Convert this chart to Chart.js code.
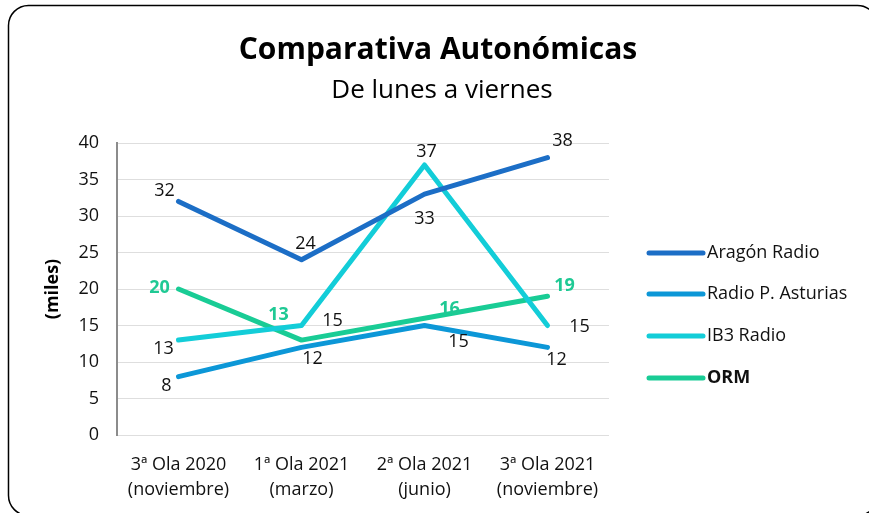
<!DOCTYPE html>
<html>
<head>
<meta charset="utf-8">
<script src="https://cdn.jsdelivr.net/npm/chart.js@4"></script>
<style>
  html, body { margin: 0; padding: 0; background: #fff; }
  #wrap { width: 869px; height: 513px; }
</style>
</head>
<body>
<div id="wrap"><canvas id="chart" width="869" height="513"></canvas></div>
<script>
const labels = [
  ['3ª Ola 2020', '(noviembre)'],
  ['1ª Ola 2021', '(marzo)'],
  ['2ª Ola 2021', '(junio)'],
  ['3ª Ola 2021', '(noviembre)']
];
const seriesNames = ['Aragón Radio', 'Radio P. Asturias', 'IB3 Radio', 'ORM'];
const aragon = [32, 24, 33, 38];
const asturias = [8, 12, 15, 12];
const ib3 = [13, 15, 37, 15];
const orm = [20, 13, 16, 19];
const yTicks = [0, 5, 10, 15, 20, 25, 30, 35, 40];

const colors = ['#1c6ec6', '#0c97d7', '#13cdd8', '#19cc95'];
// label offsets (dx, dy) from each point, in px
const labelOffsets = [
  [[-14, -11], [4, -16], [0, 25], [15, -17]],
  [[-12, 9], [11, 11], [34, 16], [9, 12]],
  [[-15, 9], [31, -5], [2, -13], [32, 1]],
  [[-19, -1], [-23, -25], [25, -9], [17, -10]]
];

const FONT = "'Open Sans', 'Noto Sans', sans-serif";

const decor = {
  id: 'decor',
  beforeDraw(chart) {
    const c = chart.ctx;
    c.save();
    c.strokeStyle = '#000';
    c.lineWidth = 1.5;
    c.beginPath();
    c.roundRect(8.5, 5.5, 869, 510, 20);
    c.stroke();
    c.fillStyle = '#000';
    c.textAlign = 'center';
    c.textBaseline = 'middle';
    c.font = 'bold 30px ' + FONT;
    c.fillText('Comparativa Autonómicas', 438, 50);
    c.font = '26px ' + FONT;
    c.fillText('De lunes a viernes', 442, 91);
    c.restore();
  },
  afterDatasetsDraw(chart) {
    const c = chart.ctx;
    c.save();
    c.textAlign = 'center';
    c.textBaseline = 'middle';
    chart.data.datasets.forEach((ds, i) => {
      const meta = chart.getDatasetMeta(i);
      const bold = i === 3;
      c.font = (bold ? 'bold ' : '') + '18px ' + FONT;
      c.fillStyle = bold ? '#1fc994' : '#111';
      meta.data.forEach((pt, j) => {
        const off = labelOffsets[i][j];
        c.fillText(String(ds.data[j]), pt.x + off[0], pt.y + off[1]);
      });
    });
    // legend
    const area = chart.chartArea;
    const lx = area.right + 40;
    const rows = [253, 294, 336, 378];
    chart.data.datasets.forEach((ds, i) => {
      const y = rows[i];
      c.strokeStyle = ds.borderColor;
      c.lineWidth = 5;
      c.lineCap = 'round';
      c.beginPath();
      c.moveTo(lx, y);
      c.lineTo(lx + 54, y);
      c.stroke();
      c.fillStyle = '#111';
      c.textAlign = 'left';
      c.font = (i === 3 ? 'bold ' : '') + '18px ' + FONT;
      c.fillText(ds.label, lx + 58, y);
    });
    c.restore();
  }
};

new Chart(document.getElementById('chart'), {
  type: 'line',
  data: {
    labels: labels,
    datasets: [aragon, asturias, ib3, orm].map((d, i) => ({
      label: seriesNames[i],
      data: d,
      borderColor: colors[i],
      backgroundColor: colors[i],
      borderWidth: 5,
      pointRadius: 0,
      tension: 0,
      borderCapStyle: 'round',
      borderJoinStyle: 'round'
    }))
  },
  options: {
    responsive: false,
    animation: false,
    layout: { padding: { left: 38, right: 260, top: 143, bottom: 10 } },
    plugins: {
      legend: { display: false },
      tooltip: { enabled: false }
    },
    scales: {
      x: {
        offset: true,
        grid: { display: false },
        border: { display: false },
        afterFit(scale) { scale.height = 68; },
        ticks: { color: '#111', font: { family: FONT, size: 18, lineHeight: 1.35 }, padding: 10, maxRotation: 0 }
      },
      y: {
        min: 0,
        max: 40,
        afterBuildTicks(scale) { scale.ticks = yTicks.map(v => ({ value: v })); },
        afterFit(scale) { scale.width = 79; },
        grid: { color: '#dedede', lineWidth: 1, drawTicks: false },
        border: { color: '#8c8c8c', width: 2 },
        ticks: { color: '#111', font: { family: FONT, size: 18 }, padding: 18 },
        title: {
          display: true,
          text: '(miles)',
          color: '#000',
          font: { family: FONT, size: 18, weight: 'bold' },
          padding: { bottom: 4 }
        }
      }
    }
  },
  plugins: [decor]
});
</script>
</body>
</html>
